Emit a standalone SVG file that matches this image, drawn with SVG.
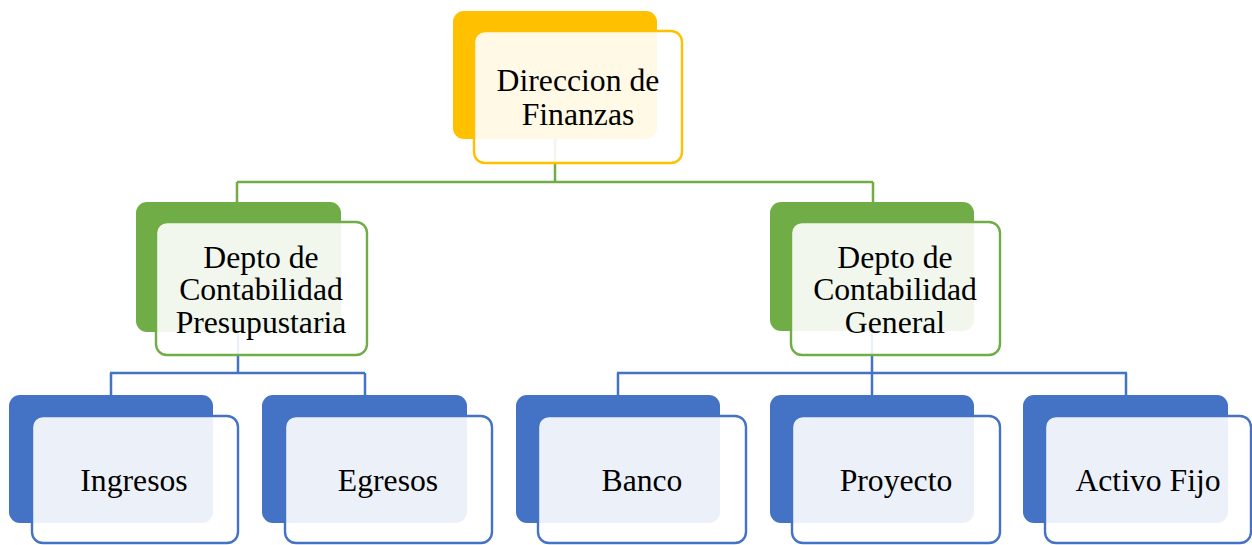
<svg xmlns="http://www.w3.org/2000/svg" width="1252" height="545" viewBox="0 0 1252 545">
<style>
.t{font-family:"Liberation Serif","Times New Roman",serif;font-size:31.7px;fill:#000;text-anchor:middle}
.fr{fill:#fff;fill-opacity:0.9;stroke-width:2.4}
.y .bk{fill:#FFC000}.y .fr{stroke:#FFC000}
.g .bk{fill:#70AD47}.g .fr{stroke:#70AD47}
.b .bk{fill:#4472C4}.b .fr{stroke:#4472C4}
.cg{stroke:#70AD47;stroke-width:2.5;fill:none}
.cb{stroke:#4472C4;stroke-width:2.5;fill:none}
</style>
<rect width="1252" height="545" fill="#fff"/>
<g id="connectors">
<path class="cg" d="M555 139V182M237 182H873M237 182V203M873 182V203"/>
<path class="cb" d="M238 332V373M110 373H365M111 373V396M365 373V396"/>
<path class="cb" d="M872 331V373M617 373H1127M618 373V396M872 373V396M1126 373V396"/>
</g>
<g id="n-direccion" class="y">
<rect class="bk" x="453" y="11" width="204" height="128" rx="11"/>
<rect class="fr" x="474" y="31" width="208" height="132" rx="11"/>
<text class="t" x="578" y="91">Direccion de</text>
<text class="t" x="578" y="125">Finanzas</text>
</g>
<g id="n-presupuestaria" class="g">
<rect class="bk" x="136" y="202" width="205" height="130" rx="11"/>
<rect class="fr" x="156" y="222" width="211" height="133" rx="11"/>
<text class="t" x="261" y="268">Depto de</text>
<text class="t" x="261" y="300">Contabilidad</text>
<text class="t" x="261" y="333">Presupustaria</text>
</g>
<g id="n-general" class="g">
<rect class="bk" x="770" y="202" width="204" height="129" rx="11"/>
<rect class="fr" x="791" y="222" width="209" height="133" rx="11"/>
<text class="t" x="895" y="268">Depto de</text>
<text class="t" x="895" y="300">Contabilidad</text>
<text class="t" x="895" y="333">General</text>
</g>
<g id="n-ingresos" class="b">
<rect class="bk" x="9" y="395" width="204" height="128" rx="11"/>
<rect class="fr" x="32" y="416" width="206" height="127" rx="11"/>
<text class="t" x="134" y="491">Ingresos</text>
</g>
<g id="n-egresos" class="b">
<rect class="bk" x="262" y="395" width="205" height="128" rx="11"/>
<rect class="fr" x="285" y="416" width="207" height="127" rx="11"/>
<text class="t" x="388" y="491">Egresos</text>
</g>
<g id="n-banco" class="b">
<rect class="bk" x="516" y="395" width="204" height="128" rx="11"/>
<rect class="fr" x="538" y="416" width="208" height="127" rx="11"/>
<text class="t" x="642" y="491">Banco</text>
</g>
<g id="n-proyecto" class="b">
<rect class="bk" x="770" y="395" width="204" height="128" rx="11"/>
<rect class="fr" x="792" y="416" width="208" height="127" rx="11"/>
<text class="t" x="896" y="491">Proyecto</text>
</g>
<g id="n-activo" class="b">
<rect class="bk" x="1023" y="395" width="205" height="128" rx="11"/>
<rect class="fr" x="1045" y="416" width="206" height="127" rx="11"/>
<text class="t" x="1148" y="491">Activo Fijo</text>
</g>
</svg>
